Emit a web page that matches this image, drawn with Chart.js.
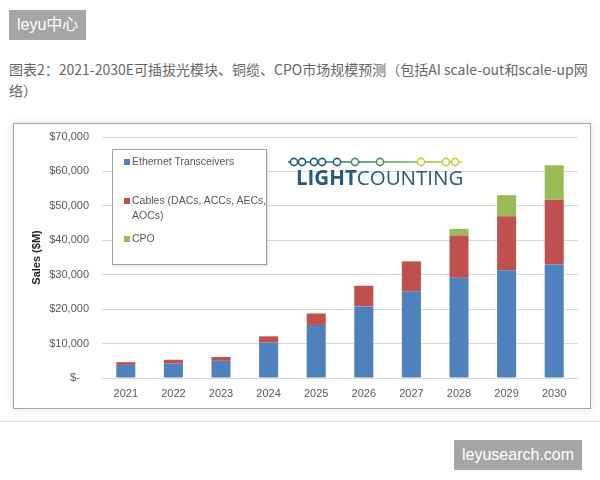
<!DOCTYPE html>
<html>
<head>
<meta charset="utf-8">
<script src="https://cdn.jsdelivr.net/npm/chart.js@4.4.1/dist/chart.umd.min.js"></script>
<style>
  html, body { margin: 0; padding: 0; background: #fff; }
  body { width: 600px; height: 480px; position: relative; overflow: hidden; font-family: "Liberation Sans", "Noto Sans CJK SC", sans-serif; }
  .badge { position: absolute; background: #a6a6a6; color: #fff; font-size: 16px; line-height: 30px; padding: 0 8px; font-family: "Liberation Sans", "Noto Sans CJK SC", sans-serif; }
  #caption { position: absolute; left: 9px; top: 59px; font-family: "Noto Sans CJK SC", sans-serif; font-size: 14px; line-height: 21px; color: #666; white-space: nowrap; }
  #frame { position: absolute; left: 13px; top: 123px; width: 576px; height: 284px; border: 1px solid #a6a6a6; box-shadow: 0 0 9px rgba(0,0,0,0.13); background: #fff; }
  #frame canvas { position: absolute; left: 0; top: 0; }
  #legend { position: absolute; left: 98px; top: 25px; width: 153px; height: 114px; border: 1px solid #a0a0a0; box-shadow: 1px 1px 2px rgba(0,0,0,0.15); background: #fff; }
  .item { position: absolute; left: 19px; width: 136px; font-size: 10.5px; line-height: 15px; color: #595959; }
  .item i { position: absolute; left: -8px; top: 5px; width: 6px; height: 6px; }
  #logo { position: absolute; left: 274px; top: 28px; width: 200px; height: 40px; }
  #logo .txt { position: absolute; left: 8px; top: 11px; font-family: "Open Sans", sans-serif; font-size: 20.5px; color: #275a7e; }
  #sep { position: absolute; left: 0; top: 421px; width: 600px; height: 1px; background: #dedede; }
</style>
</head>
<body>
<div class="badge" style="left:9px; top:10px;">leyu中心</div>
<div id="caption">图表2：2021-2030E可插拔光模块、铜缆、CPO市场规模预测（包括AI scale-out和scale-up网<br>络）</div>
<div id="frame">
  <canvas id="chart" width="576" height="284"></canvas>
  <div id="legend"></div>
  <div id="logo">
    <svg id="dots" width="190" height="14" style="position:absolute;left:0;top:3px"></svg>
    <div class="txt"><b>LIGHT</b>COUNTING</div>
  </div>
</div>
<div id="sep"></div>
<div class="badge" style="left:454px; top:440px;">leyusearch.com</div>

<script>
const years = ['2021', '2022', '2023', '2024', '2025', '2026', '2027', '2028', '2029', '2030'];
const ethernet = [3800, 4200, 5000, 10300, 15400, 20800, 25200, 29100, 31300, 33000];
const cables = [800, 1100, 1100, 1800, 3300, 6000, 8600, 12300, 15700, 18800];
const cpo = [0, 0, 0, 0, 100, 0, 200, 1900, 6100, 10000];
const seriesNames = ['Ethernet Transceivers', 'Cables (DACs, ACCs, AECs, AOCs)', 'CPO'];
const seriesColors = ['#4f81bd', '#c0504d', '#9bbb59'];

// logo circles
const dotX = [6, 14, 26, 34, 49, 67, 92, 133, 158, 167];
const svg = document.getElementById('dots');
let svgHtml = '<defs><linearGradient id="g" gradientUnits="userSpaceOnUse" x1="0" y1="0" x2="174" y2="0"><stop offset="0" stop-color="#1f5f7c"/><stop offset="0.5" stop-color="#3f8a6a"/><stop offset="1" stop-color="#d4d83a"/></linearGradient></defs>';
svgHtml += '<line x1="0" y1="7" x2="174" y2="7" stroke="url(#g)" stroke-width="1.6"/>';
dotX.forEach(x => {
  const t = x / 174;
  const c = t < 0.35 ? '#1f5f7c' : (t < 0.6 ? '#4f905e' : '#c6d03a');
  svgHtml += '<circle cx="' + x + '" cy="7" r="3.6" fill="#fff" stroke="' + c + '" stroke-width="1.6"/>';
});
svg.innerHTML = svgHtml;

const chart = new Chart(document.getElementById('chart'), {
  type: 'bar',
  data: {
    labels: years,
    datasets: [
      { label: seriesNames[0], data: ethernet, backgroundColor: seriesColors[0] },
      { label: seriesNames[1], data: cables, backgroundColor: seriesColors[1] },
      { label: seriesNames[2], data: cpo, backgroundColor: seriesColors[2] }
    ]
  },
  options: {
    responsive: false,
    animation: false,
    datasets: { bar: { barPercentage: 0.4, categoryPercentage: 1 } },
    layout: { padding: { top: 13, right: 12, bottom: 0, left: 0 } },
    plugins: { legend: { display: false }, tooltip: { enabled: false } },
    scales: {
      x: {
        stacked: true,
        grid: { display: false, drawTicks: false },
        border: { display: false },
        ticks: { padding: 9, color: '#595959', font: { size: 11, family: 'Liberation Sans' } },
        afterFit: s => { s.height = 30; }
      },
      y: {
        stacked: true,
        min: 0,
        max: 70000,
        grid: { color: '#d9d9d9', drawTicks: false },
        border: { display: false },
        ticks: {
          stepSize: 10000,
          padding: 13,
          color: '#595959',
          font: { size: 11, family: 'Liberation Sans' },
          callback: v => v === 0 ? '$-   ' : '$' + v.toLocaleString('en-US')
        },
        title: {
          display: true,
          text: 'Sales ($M)',
          color: '#262626',
          font: { size: 11, weight: 'bold', family: 'Liberation Sans' },
          padding: { top: 16, bottom: 0 }
        },
        afterFit: s => { s.width = 88; s.paddingTop = 6; s.paddingBottom = 6; }
      }
    }
  }
});

// legend box from the datasets
const legend = document.getElementById('legend');
const itemTops = [4, 43, 81];
chart.data.datasets.forEach((ds, i) => {
  const el = document.createElement('div');
  el.className = 'item';
  el.style.top = itemTops[i] + 'px';
  el.innerHTML = '<i style="background:' + ds.backgroundColor + '"></i>' + ds.label;
  legend.appendChild(el);
});
</script>
</body>
</html>
